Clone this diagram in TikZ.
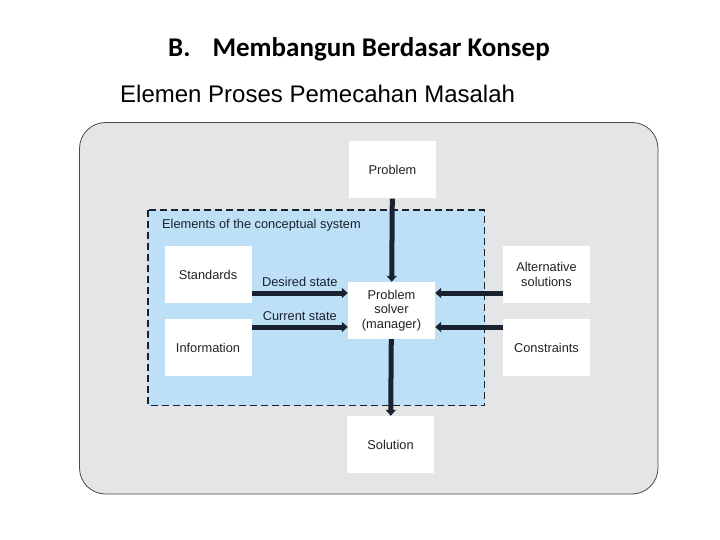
\documentclass[tikz,border=0pt]{standalone}
\usepackage{fontspec}
\setmainfont{Liberation Sans}
\newfontfamily\pmtitlefont{Carlito}
\usepackage{tikz}
\usetikzlibrary{arrows.meta, backgrounds}
\definecolor{pmpanel}{HTML}{E4E5E7}
\definecolor{pmpanelline}{HTML}{4A4A4A}
\definecolor{pmsystem}{HTML}{BDE0F6}
\definecolor{pmnavy}{HTML}{1A2230}
\definecolor{pmtext}{HTML}{222222}
\newcommand{\PmFigureFont}{\fontsize{12.8}{14.2}\selectfont}
\tikzset{
  pm box/.style={
    fill=white,
    draw=none,
    align=center,
    inner sep=0pt,
    minimum width=87pt,
    minimum height=57pt,
    text=pmtext,
    font=\PmFigureFont
  },
  pm arrow/.style={
    -{Triangle[length=6pt,width=10pt]},
    line width=5pt,
    draw=pmnavy
  },
  pm flow label/.style={
    font=\PmFigureFont,
    text=pmnavy,
    inner sep=1pt
  },
  pm system frame/.style={
    fill=pmsystem,
    draw=pmnavy,
    line width=1.4pt,
    dash pattern=on 7pt off 4pt
  }
}

\begin{document}
\begin{tikzpicture}[x=1pt,y=-1pt]
\useasboundingbox (0,0) rectangle (720,540);

\node[anchor=base west, inner sep=0pt, font=\pmtitlefont\bfseries\fontsize{27}{31}\selectfont]
  (title) at (168,56.5) {B.\hspace{22pt}Membangun Berdasar Konsep};
\node[anchor=base west, inner sep=0pt, font=\fontsize{24}{28}\selectfont]
  (subtitle) at (120,103) {Elemen Proses Pemecahan Masalah};

\draw[fill=pmpanel, draw=pmpanelline, line width=0.8pt, rounded corners=26pt]
  (79.5,122.5) rectangle (658,494);
\draw[pm system frame] (148,210) rectangle (484.5,405.5);
\node[pm flow label, anchor=west] (system) at (161,225)
  {Elements of the conceptual system};

\node[pm box] (problem) at (392.5,170) {Problem};
\node[pm box] (standards) at (208,274.5) {Standards};
\node[pm box] (information) at (208,347.5) {Information};
\node[pm box] (solver) at (391.5,310.5) {Problem\\solver\\(manager)};
\node[pm box] (alternatives) at (546.5,274.5) {Alternative\\solutions};
\node[pm box] (constraints) at (546.5,347.5) {Constraints};
\node[pm box] (solution) at (390.5,444.5) {Solution};

\coordinate (desiredin) at ([yshift=17.5pt]solver.west);
\coordinate (currentin) at ([yshift=-16.5pt]solver.west);
\coordinate (alternin) at ([yshift=17.5pt]solver.east);
\coordinate (constrin) at ([yshift=-16.5pt]solver.east);

\draw[pm arrow] (problem) -- (solver);
\draw[pm arrow] (solver) -- (solution);
\draw[pm arrow] (standards.east |- desiredin) -- (desiredin)
  node[pm flow label, midway, above=3pt] {Desired state};
\draw[pm arrow] (information.east |- currentin) -- (currentin)
  node[pm flow label, midway, above=3pt] {Current state};
\draw[pm arrow] (alternatives.west |- alternin) -- (alternin);
\draw[pm arrow] (constraints.west |- constrin) -- (constrin);
\end{tikzpicture}
\end{document}
